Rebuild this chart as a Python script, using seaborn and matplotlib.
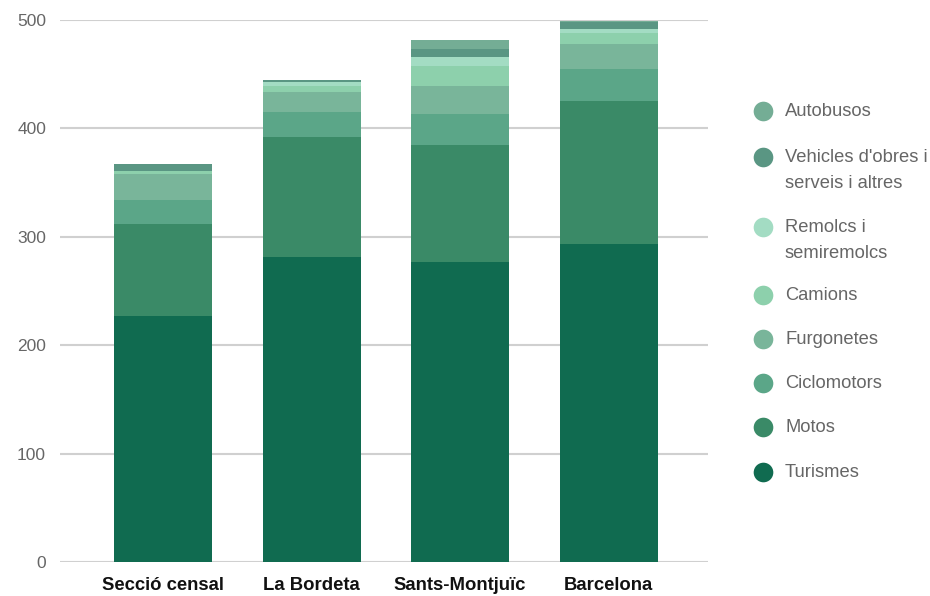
import matplotlib
matplotlib.use("Agg")
import matplotlib.pyplot as plt
import numpy as np
import pandas as pd
import seaborn as sns

# Vehicle fleet per area, stacked by vehicle type
areas = ["Secció censal", "La Bordeta", "Sants-Montjuïc", "Barcelona"]
turismes = [227.0, 281.4, 276.8, 293.4]
motos = [85.0, 110.7, 107.9, 132.2]
ciclomotors = [22.4, 23.0, 28.6, 29.2]
furgonetes = [23.7, 18.5, 25.8, 23.1]
camions = [2.5, 5.8, 18.7, 10.1]
remolcs = [0.3, 3.4, 8.1, 3.7]
vehicles_obres = [5.8, 1.8, 7.3, 6.7]
autobusos = [0.2, 0.3, 8.3, 0.5]

series_names = ["Turismes", "Motos", "Ciclomotors", "Furgonetes", "Camions",
                "Remolcs i\nsemiremolcs", "Vehicles d'obres i\nserveis i altres",
                "Autobusos"]
series_values = [turismes, motos, ciclomotors, furgonetes, camions,
                 remolcs, vehicles_obres, autobusos]
colors = ["#106b50", "#3a8a67", "#5ba688", "#79b59a", "#8dd0ac",
          "#a3dcc3", "#5a9683", "#74ad95"]

sns.set_theme(style="white")
plt.rcParams["font.family"] = ["Liberation Sans", "DejaVu Sans"]

fig = plt.figure(figsize=(9.3, 5.96), dpi=100)
ax = fig.add_axes([60 / 930, 1 - 562 / 596, 648 / 930, 542 / 596])

cum = np.cumsum(np.array(series_values), axis=0)
df = pd.DataFrame({"area": areas})
# draw cumulative totals from the top layer down so each layer shows its own slice
for i in range(len(series_names) - 1, -1, -1):
    df["v"] = cum[i]
    sns.barplot(data=df, x="area", y="v", color=colors[i], saturation=1,
                width=0.66, ax=ax, zorder=3, linewidth=0)

ax.set_xlim(-0.694, 3.67)
ax.set_ylim(0, 500)
ax.set_yticks([0, 100, 200, 300, 400, 500])
ax.yaxis.grid(True, color="#d0d0d0", linewidth=1.5, zorder=0)
ax.set_axisbelow(True)
for s in ax.spines.values():
    s.set_visible(False)
ax.set_xlabel("")
ax.set_ylabel("")
ax.tick_params(axis="y", length=0, pad=10, labelsize=12.5, labelcolor="#666666")
ax.tick_params(axis="x", length=0, pad=11, labelsize=13.3, labelcolor="#111111")
for lab in ax.get_xticklabels():
    lab.set_fontweight("bold")

# legend: circle markers with labels, top entry is the last stacked layer
legend_rows = [111, 157, 227, 295, 339, 383, 427, 472]
for j, idx in enumerate(range(len(series_names) - 1, -1, -1)):
    ypx = legend_rows[j]
    yf = 1 - ypx / 596
    ax.scatter([763 / 930], [yf], s=200, color=colors[idx], transform=fig.transFigure,
               clip_on=False, linewidth=0)
    label = series_names[idx]
    if "\n" in label:
        fig.text(785 / 930, 1 - (ypx - 8.5) / 596, label, ha="left", va="top",
                 fontsize=13.2, color="#666666", linespacing=1.7)
    else:
        fig.text(785 / 930, 1 - (ypx + 0.5) / 596, label, ha="left", va="center",
                 fontsize=13.2, color="#666666")

fig.savefig("out.png", dpi=100)
